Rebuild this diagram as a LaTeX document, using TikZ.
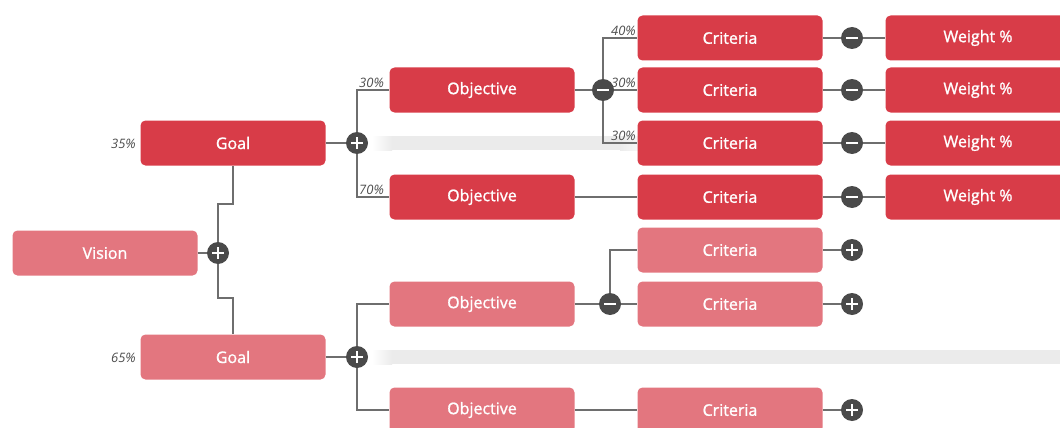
\documentclass[tikz,border=0pt]{standalone}
\usepackage{fontspec}
\setmainfont{Open Sans}
\newfontfamily\boxfont{Open Sans}[FakeBold=1.2]
\definecolor{deep}{HTML}{D83C48}
\definecolor{soft}{HTML}{E3767F}
\definecolor{knob}{HTML}{4A4A4A}
\definecolor{wire}{HTML}{6E6E6E}
\definecolor{pct}{HTML}{4E4E4E}
\definecolor{haze}{HTML}{EBEBEB}
\tikzset{
  box/.style={rounded corners=5pt, minimum width=185pt, minimum height=45pt,
    text=white, font=\boxfont\fontsize{16}{18}\selectfont, inner sep=0pt},
  hot/.style={box, fill=deep},
  mild/.style={box, fill=soft},
  knob/.style={circle, fill=knob, minimum size=22pt, inner sep=0pt},
  knobplus/.style={knob, path picture={
    \draw[white, line width=2pt]
      ([xshift=-6pt]path picture bounding box.center) -- ([xshift=6pt]path picture bounding box.center)
      ([yshift=-6pt]path picture bounding box.center) -- ([yshift=6pt]path picture bounding box.center);}},
  knobminus/.style={knob, path picture={
    \draw[white, line width=2.5pt]
      ([xshift=-6pt]path picture bounding box.center) -- ([xshift=6pt]path picture bounding box.center);}},
  wire/.style={draw=wire, line width=1.3pt},
  pctlabel/.style={text=pct, font=\itshape\fontsize{13}{15}\selectfont, inner sep=1pt},
}
% a soft grey band that fades in and out at its ends
\newcommand\hazeband[3]{% x0, x1, y
  \shade[left color=white, right color=haze] (#1,#3-7) rectangle (#1+20,#3+7);
  \fill[haze] (#1+20,#3-7) rectangle (#2-30,#3+7);
  \shade[left color=haze, right color=white] (#2-30,#3-7) rectangle (#2,#3+7);
}
\begin{document}
\begin{tikzpicture}[x=1pt, y=-1pt]
  \useasboundingbox (0,0) rectangle (1060,428);
  \clip (0,0) rectangle (1060,428);

  % soft grey bands behind the branches
  \hazeband{372}{650}{143}
  \hazeband{372}{1100}{357}

  % root
  \node[mild] (vision) at (105,253) {Vision};
  \node[knobplus] (vplus) at (218,253) {};

  % goals
  \node[hot]  (goalA) at (233,143) {Goal};
  \node[mild] (goalB) at (233,357) {Goal};
  \node[pctlabel, anchor=east] (pA) at (137,144) {35\%};
  \node[pctlabel, anchor=east] (pB) at (137,358) {65\%};
  \node[knobplus] (gplusA) at (357,143) {};
  \node[knobplus] (gplusB) at (357,357) {};

  % objectives
  \node[hot]  (objA) at (482,90)  {Objective};
  \node[hot]  (objB) at (482,197) {Objective};
  \node[mild] (objC) at (482,304) {Objective};
  \node[mild] (objD) at (482,410) {Objective};
  \node[knobminus] (ominusA) at (603,90)  {};
  \node[knobminus] (ominusC) at (610,304) {};

  % criteria
  \node[hot]  (critA) at (730,38)  {Criteria};
  \node[hot]  (critB) at (730,90)  {Criteria};
  \node[hot]  (critC) at (730,143) {Criteria};
  \node[hot]  (critD) at (730,197) {Criteria};
  \node[mild] (critE) at (730,250) {Criteria};
  \node[mild] (critF) at (730,304) {Criteria};
  \node[mild] (critG) at (730,410) {Criteria};

  % knobs after criteria
  \node[knobminus] (cmA) at (852,38)  {};
  \node[knobminus] (cmB) at (852,90)  {};
  \node[knobminus] (cmC) at (852,143) {};
  \node[knobminus] (cmD) at (852,197) {};
  \node[knobplus]  (cpE) at (852,250) {};
  \node[knobplus]  (cpF) at (852,304) {};
  \node[knobplus]  (cpG) at (852,410) {};

  % weights
  \node[hot] (wA) at (978,38)  {Weight \%};
  \node[hot] (wB) at (978,90)  {Weight \%};
  \node[hot] (wC) at (978,143) {Weight \%};
  \node[hot] (wD) at (978,197) {Weight \%};

  % connectors: vision to goals
  \draw[wire] (vision.east) -- (vplus.west);
  \draw[wire] (vplus.north) |- (goalA.south |- 0,204) -- (goalA.south);
  \draw[wire] (vplus.south) |- (goalB.north |- 0,298) -- (goalB.north);

  % goals to objectives
  \draw[wire] (goalA.east) -- (gplusA.west);
  \draw[wire] (gplusA.north) |- (objA.west);
  \draw[wire] (gplusA.south) |- (objB.west);
  \draw[wire] (goalB.east) -- (gplusB.west);
  \draw[wire] (gplusB.north) |- (objC.west);
  \draw[wire] (gplusB.south) |- (objD.west);
  \node[pctlabel, anchor=south west] (pOA) at (358,89)  {30\%};
  \node[pctlabel, anchor=south west] (pOB) at (358,196) {70\%};

  % objectives to criteria
  \draw[wire] (objA.east) -- (ominusA.west);
  \draw[wire] (ominusA.north) |- (critA.west);
  \draw[wire] (ominusA.east) -- (critB.west);
  \draw[wire] (ominusA.south) |- (critC.west);
  \draw[wire] (objB.east) -- (critD.west);
  \draw[wire] (objC.east) -- (ominusC.west);
  \draw[wire] (ominusC.north) |- (critE.west);
  \draw[wire] (ominusC.east) -- (critF.west);
  \draw[wire] (objD.east) -- (critG.west);
  \node[pctlabel, anchor=south east] (pCA) at (637,37)  {40\%};
  \node[pctlabel, anchor=south east] (pCB) at (637,89)  {30\%};
  \node[pctlabel, anchor=south east] (pCC) at (637,142) {30\%};

  % criteria to weights
  \foreach \c/\k in {critA/cmA, critB/cmB, critC/cmC, critD/cmD, critE/cpE, critF/cpF, critG/cpG}
    \draw[wire] (\c.east) -- (\k.west);
  \foreach \k/\w in {cmA/wA, cmB/wB, cmC/wC, cmD/wD}
    \draw[wire] (\k.east) -- (\w.west);
\end{tikzpicture}
\end{document}
